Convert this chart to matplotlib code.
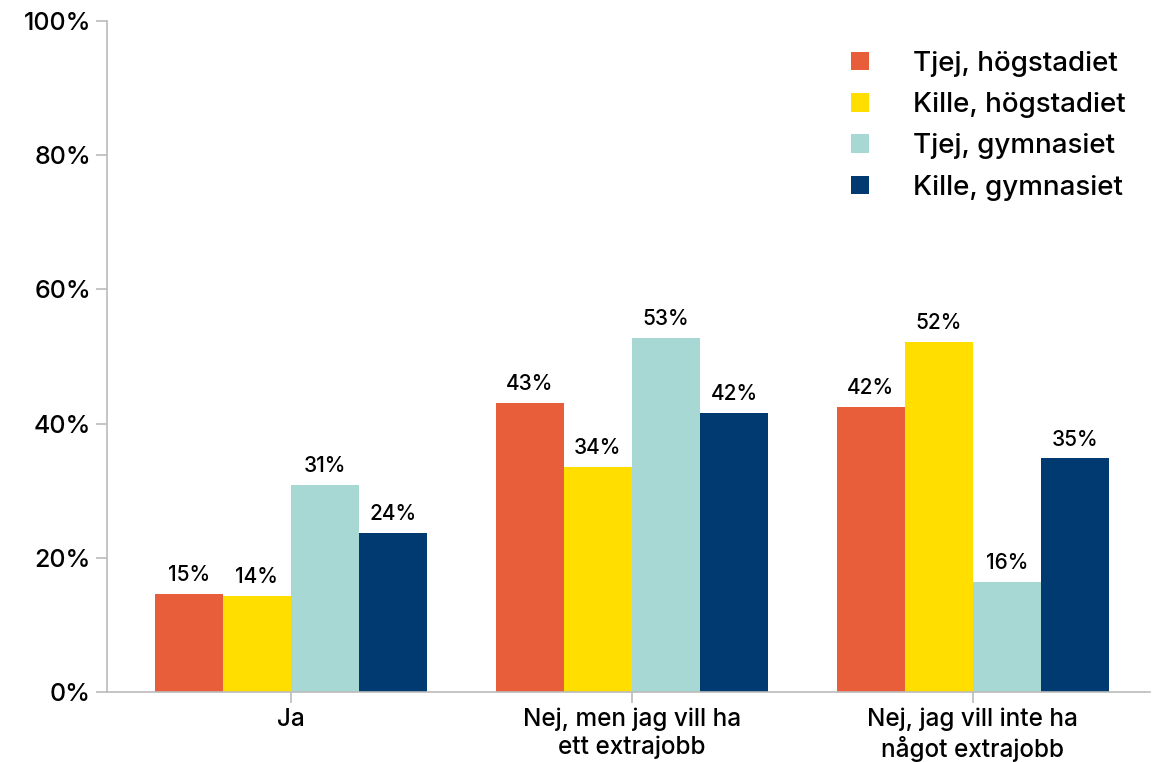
import matplotlib.pyplot as plt
import numpy as np

plt.rcParams['font.family'] = ['Inter', 'DejaVu Sans']
plt.rcParams['font.weight'] = 500

categories = ['Ja', 'Nej, men jag vill ha\nett extrajobb', 'Nej, jag vill inte ha\nnågot extrajobb']
series = ['Tjej, högstadiet', 'Kille, högstadiet', 'Tjej, gymnasiet', 'Kille, gymnasiet']
tjej_hog = [14.6, 43.1, 42.5]
kille_hog = [14.3, 33.6, 52.2]
tjej_gym = [30.9, 52.8, 16.4]
kille_gym = [23.7, 41.6, 34.8]
colors = ['#E95E3A', '#FFDE00', '#A8D8D4', '#003A70']

fig = plt.figure(figsize=(11.54, 7.62), dpi=100)
ax = fig.add_axes([0.0927, 0.0919, 0.904, 0.8805])

x = np.arange(len(categories))
w = 0.2
for i, (name, vals) in enumerate(zip(series, [tjej_hog, kille_hog, tjej_gym, kille_gym])):
    pos = x + (i - 1.5) * w
    ax.bar(pos, vals, w, color=colors[i], label=name)
    for p, v in zip(pos, vals):
        ax.text(p, v + 1.3, f'{v:.0f}%', ha='center', va='bottom', fontsize=15)

ax.set_xlim(-0.54, 2.52)
ax.set_ylim(0, 100)
ax.set_yticks(range(0, 101, 20))
ax.set_yticklabels([f'{t}%' for t in range(0, 101, 20)], fontsize=18)
ax.set_xticks(x)
ax.set_xticklabels(categories, fontsize=17.5)

for s in ['top', 'right']:
    ax.spines[s].set_visible(False)
for s in ['left', 'bottom']:
    ax.spines[s].set_color('#BBBBBB')
    ax.spines[s].set_linewidth(1.2)
ax.tick_params(axis='both', colors='#BBBBBB', labelcolor='black', length=8, width=1.2)

ax.legend(loc='upper right', bbox_to_anchor=(1.001, 0.993), frameon=False, fontsize=20,
          handlelength=0.65, handleheight=0.65, handletextpad=1.6, labelspacing=0.55)

plt.savefig('out.png', dpi=100)
